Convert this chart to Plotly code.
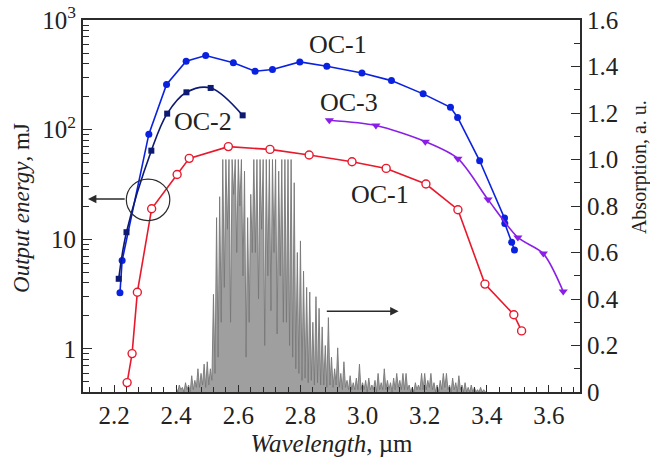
import numpy as np
import plotly.graph_objects as go

# ---------------- data ----------------
oc1_x = [2.219, 2.226, 2.312, 2.369, 2.432, 2.495, 2.584, 2.654, 2.710, 2.798, 2.885,
         2.998, 3.093, 3.195, 3.283, 3.306, 3.377, 3.457, 3.458, 3.480, 3.489]
oc1_y = [3.25, 6.4, 91, 258, 421, 474, 407, 341, 353, 415, 378,
         329, 280, 212, 160, 129, 52, 15.6, 13.9, 9.4, 8.0]

oc2_x = [2.215, 2.240, 2.320, 2.371, 2.433, 2.511, 2.614]
oc2_y = [4.36, 11.6, 64.3, 140, 219, 240, 135]

oc3_x = [2.893, 3.043, 3.202, 3.307, 3.404, 3.500, 3.582, 3.646]
oc3_y = [121.7, 109, 77.6, 54.4, 23, 10.4, 7.4, 3.34]

oc1b_x = [2.242, 2.258, 2.275, 2.321, 2.403, 2.442, 2.568, 2.702, 2.828, 2.966,
          3.076, 3.204, 3.307, 3.394, 3.487, 3.512]
oc1b_y = [0.493, 0.906, 3.29, 19.0, 39, 54.7, 70, 66, 58.7, 51,
          44.3, 31.9, 18.6, 3.9, 2.05, 1.46]

# absorption spectrum, sampled every 0.005 um from 2.400 to 3.400
spec_start, spec_step = 2.400, 0.005
spec_y = [
    0.02, 0.00, 0.03, 0.01, 0.02, 0.00, 0.04, 0.01, 0.03, 0.00,   # 2.40
    0.07, 0.01, 0.05, 0.02, 0.10, 0.02, 0.08, 0.03, 0.12, 0.02,   # 2.45
    0.13, 0.03, 0.10, 0.05, 0.42, 0.08, 0.75, 0.15, 0.84, 0.30,   # 2.50
    1.00, 0.45, 1.00, 0.70, 1.00, 0.30, 1.00, 0.85, 1.00, 0.60,   # 2.55
    1.00, 0.80, 1.00, 0.50, 0.95, 0.15, 0.75, 0.30, 0.85, 0.60,   # 2.60
    1.00, 0.60, 1.00, 0.40, 1.00, 0.70, 1.00, 0.20, 1.00, 0.50,   # 2.65
    1.00, 0.35, 1.00, 0.60, 1.00, 0.25, 0.95, 0.50, 1.00, 0.30,   # 2.70
    1.00, 0.30, 1.00, 0.20, 1.00, 0.15, 0.90, 0.10, 0.60, 0.08,   # 2.75
    0.65, 0.05, 0.52, 0.06, 0.45, 0.04, 0.43, 0.05, 0.30, 0.03,   # 2.80
    0.41, 0.04, 0.36, 0.03, 0.28, 0.03, 0.20, 0.02, 0.32, 0.03,   # 2.85
    0.15, 0.02, 0.10, 0.03, 0.19, 0.02, 0.08, 0.01, 0.13, 0.02,   # 2.90
    0.05, 0.01, 0.07, 0.01, 0.04, 0.01, 0.06, 0.01, 0.12, 0.01,   # 2.95
    0.04, 0.01, 0.05, 0.00, 0.06, 0.01, 0.03, 0.01, 0.05, 0.00,   # 3.00
    0.08, 0.01, 0.04, 0.01, 0.10, 0.01, 0.05, 0.01, 0.04, 0.00,   # 3.05
    0.06, 0.01, 0.08, 0.02, 0.05, 0.01, 0.08, 0.01, 0.08, 0.01,   # 3.10
    0.03, 0.00, 0.02, 0.00, 0.04, 0.01, 0.03, 0.01, 0.08, 0.01,   # 3.15
    0.08, 0.01, 0.05, 0.02, 0.08, 0.01, 0.04, 0.00, 0.03, 0.00,   # 3.20
    0.05, 0.01, 0.08, 0.02, 0.08, 0.01, 0.03, 0.00, 0.06, 0.01,   # 3.25
    0.04, 0.00, 0.07, 0.01, 0.03, 0.00, 0.04, 0.00, 0.02, 0.00,   # 3.30
    0.03, 0.00, 0.02, 0.00, 0.01, 0.00, 0.02, 0.00, 0.01, 0.00,   # 3.35
    0.00,
]
spec_x = np.round(spec_start + spec_step * np.arange(len(spec_y)), 4)

x_ticks = [2.2, 2.4, 2.6, 2.8, 3.0, 3.2, 3.4, 3.6]
x_ticktext = ["2.2", "2.4", "2.6", "2.8", "3.0", "3.2", "3.4", "3.6"]
e_ticks = [1, 10, 100, 1000]
e_ticktext = ["1", "10", "10<sup>2</sup>", "10<sup>3</sup>"]
a_ticks = [0, 0.2, 0.4, 0.6, 0.8, 1.0, 1.2, 1.4, 1.6]
a_ticktext = ["0", "0.2", "0.4", "0.6", "0.8", "1.0", "1.2", "1.4", "1.6"]

# ---------------- styles ----------------
FONT = "Liberation Serif"
AX = "#2b2b2b"
TXT = "#222222"
BLUE = "#0a22e0"
NAVY = "#0d1a73"
PURPLE = "#8a1ee8"
RED = "#e8192c"
GRAY = "#777777"

fig = go.Figure()

fig.add_trace(go.Scatter(
    x=spec_x, y=spec_y, yaxis="y", mode="lines",
    line=dict(color=GRAY, width=0.9), fill="tozeroy",
    fillcolor="rgba(135,135,135,0.8)", hoverinfo="skip", showlegend=False))

fig.add_trace(go.Scatter(
    x=oc1_x, y=oc1_y, yaxis="y2", mode="lines+markers",
    line=dict(color=BLUE, width=1.6),
    marker=dict(symbol="circle", size=7, color=BLUE), showlegend=False))

fig.add_trace(go.Scatter(
    x=oc2_x, y=oc2_y, yaxis="y2", mode="lines+markers",
    line=dict(color=NAVY, width=1.6, shape="spline", smoothing=1.0),
    marker=dict(symbol="square", size=6, color=NAVY), showlegend=False))

fig.add_trace(go.Scatter(
    x=oc3_x, y=oc3_y, yaxis="y2", mode="lines+markers",
    line=dict(color=PURPLE, width=1.6, shape="spline", smoothing=0.8),
    marker=dict(symbol="triangle-down", size=8, color=PURPLE), showlegend=False))

fig.add_trace(go.Scatter(
    x=oc1b_x, y=oc1b_y, yaxis="y2", mode="lines+markers",
    line=dict(color=RED, width=1.6),
    marker=dict(symbol="circle", size=8, color="white",
                line=dict(color=RED, width=1.4)), showlegend=False))

label_font = dict(family=FONT, size=26, color=TXT)
annotations = [
    dict(x=2.920, y=2.775, xref="x", yref="y2", text="OC-1", showarrow=False, font=label_font),
    dict(x=2.487, y=2.075, xref="x", yref="y2", text="OC-2", showarrow=False, font=label_font),
    dict(x=2.955, y=2.250, xref="x", yref="y2", text="OC-3", showarrow=False, font=label_font),
    dict(x=3.055, y=1.412, xref="x", yref="y2", text="OC-1", showarrow=False, font=label_font),
    # arrow from circle to left axis
    dict(x=2.116, y=1.367, xref="x", yref="y2", ax=2.239, ay=1.367, axref="x", ayref="y2",
         text="", showarrow=True, arrowhead=2, arrowsize=1.2, arrowwidth=1.4, arrowcolor=AX),
    # arrow to right axis
    dict(x=3.116, y=0.347, xref="x", yref="y", ax=2.880, ay=0.347, axref="x", ayref="y",
         text="", showarrow=True, arrowhead=2, arrowsize=1.2, arrowwidth=1.4, arrowcolor=AX),
    # left axis title
    dict(x=-0.1227, y=0.495, xref="paper", yref="paper", text="<i>Output energy</i>, mJ",
         textangle=-90, showarrow=False, xanchor="center", yanchor="middle",
         font=dict(family=FONT, size=23, color=TXT)),
    # right axis title
    dict(x=1.121, y=0.605, xref="paper", yref="paper", text="Absorption, a. u.",
         textangle=-90, showarrow=False, xanchor="center", yanchor="middle",
         font=dict(family=FONT, size=20, color=TXT)),
]

shapes = [
    dict(type="circle", xref="x", yref="y2", x0=2.2395, x1=2.3795,
         y0=10 ** 1.170, y1=10 ** 1.549, line=dict(color=AX, width=1.2)),
]

tickfont = dict(family=FONT, size=25, color=TXT)

fig.update_layout(
    width=650, height=457,
    margin=dict(l=83, r=70, t=20, b=65),
    paper_bgcolor="white", plot_bgcolor="white",
    showlegend=False,
    annotations=annotations,
    shapes=shapes,
    xaxis=dict(
        range=[2.1, 3.7], tickmode="array", tickvals=x_ticks, ticktext=x_ticktext,
        ticks="inside", ticklen=7, tickwidth=1.4, tickcolor=AX,
        minor=dict(dtick=0.04, tick0=2.2, ticks="inside", ticklen=5, tickwidth=1.2, tickcolor=AX),
        showline=True, linewidth=2, linecolor=AX, mirror=True,
        showgrid=False, zeroline=False, tickfont=tickfont, automargin=False,
        title=dict(text="<i>Wavelength</i>, µm", font=dict(family=FONT, size=25, color=TXT)),
        anchor="y",
    ),
    yaxis=dict(
        range=[0, 1.6], side="right", tickmode="array", tickvals=a_ticks, ticktext=a_ticktext,
        ticks="inside", ticklen=9, tickwidth=1.4, tickcolor=AX,
        minor=dict(dtick=0.1, tick0=0, ticks="inside", ticklen=6, tickwidth=1.2, tickcolor=AX),
        showline=True, linewidth=2, linecolor=AX, automargin=False,
        showgrid=False, zeroline=False, tickfont=tickfont,
        anchor="x",
    ),
    yaxis2=dict(
        type="log", range=[-0.393, 3], side="left", overlaying="y",
        tickmode="array", tickvals=e_ticks, ticktext=e_ticktext,
        ticks="inside", ticklen=9, tickwidth=1.4, tickcolor=AX,
        minor=dict(tickmode="array",
                   tickvals=[0.5, 0.6, 0.7, 0.8, 0.9, 2, 3, 4, 5, 6, 7, 8, 9,
                             20, 30, 40, 50, 60, 70, 80, 90,
                             200, 300, 400, 500, 600, 700, 800, 900],
                   ticks="inside", ticklen=6, tickwidth=1.2, tickcolor=AX),
        showline=True, linewidth=2, linecolor=AX, automargin=False,
        showgrid=False, zeroline=False, tickfont=tickfont,
        anchor="x",
    ),
)

fig.write_html("out.html")
